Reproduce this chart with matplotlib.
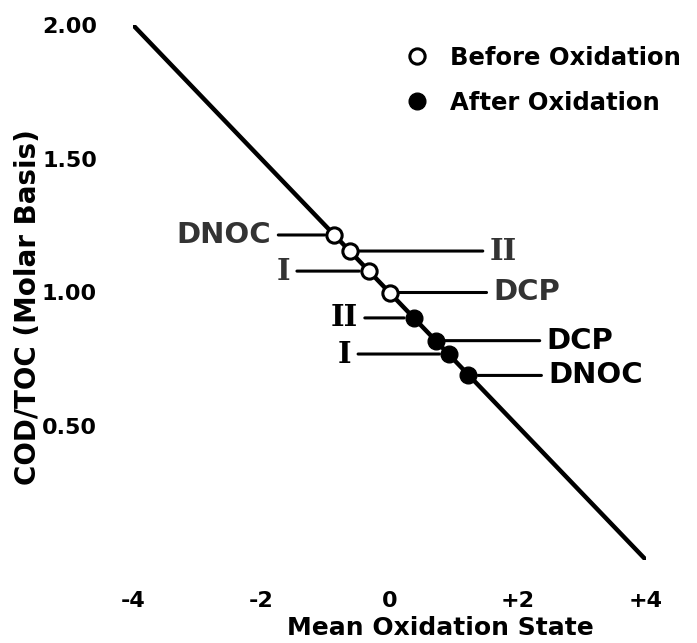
import matplotlib
matplotlib.use("Agg")
import matplotlib.pyplot as plt
from matplotlib.lines import Line2D

# ---- data ----
line_x = [-4.0, 4.0]          # COD/TOC = (4 - MOS)/4 reference line
line_y = [2.0, 0.0]

before_x = [-0.86, -0.62, -0.32, 0.0]
before_y = [1.215, 1.155, 1.08, 1.0]
before_labels = ["DNOC", "II", "I", "DCP"]
before_side = ["left", "right", "left", "right"]
before_dx = [-63, 140, -79, 104]

after_x = [0.38, 0.72, 0.93, 1.23]
after_y = [0.905, 0.82, 0.77, 0.69]
after_labels = ["II", "DCP", "I", "DNOC"]
after_side = ["left", "right", "left", "right"]
after_dx = [-56, 111, -98, 80]

xticks = [-4, -2, 0, 2, 4]
xtick_labels = ["-4", "-2", "0", "+2", "+4"]
yticks = [0.5, 1.0, 1.5, 2.0]
ytick_labels = ["0.50", "1.00", "1.50", "2.00"]

W, H = 697, 643
fig = plt.figure(figsize=(W / 100, H / 100), dpi=100)
ax = fig.add_axes([133 / W, 1 - 560 / H, (646 - 133) / W, (560 - 25) / H])
ax.set_xlim(-4, 4)
ax.set_ylim(0, 2)
for s in ax.spines.values():
    s.set_visible(False)

ax.plot(line_x, line_y, color="black", lw=3.2, solid_capstyle="round", zorder=2)
ax.plot(before_x, before_y, "o", ms=11, mfc="white", mec="black", mew=2.2, zorder=3)
ax.plot(after_x, after_y, "o", ms=12, mfc="black", mec="black", zorder=3)

def annot(xs, ys, labels, sides, dxs, color, weight):
    for x, y, lab, side, dx in zip(xs, ys, labels, sides, dxs):
        fam = "DejaVu Serif" if lab in ("I", "II") else "DejaVu Sans"
        ax.annotate(lab, xy=(x, y), xytext=(dx, 0), textcoords="offset pixels",
                    ha="right" if side == "left" else "left", va="center",
                    fontsize=21, fontweight=weight, family=fam, color=color,
                    arrowprops=dict(arrowstyle="-", lw=2.2, color="black",
                                    shrinkA=3, shrinkB=7))

annot(before_x, before_y, before_labels, before_side, before_dx, "#333333", "bold")
annot(after_x, after_y, after_labels, after_side, after_dx, "black", "bold")

ax.set_xticks(xticks)
ax.set_xticklabels(xtick_labels, fontsize=16, fontweight="bold")
ax.set_yticks(yticks)
ax.set_yticklabels(ytick_labels, fontsize=16, fontweight="bold")
ax.tick_params(axis="both", length=0)
ax.tick_params(axis="y", pad=26)
ax.tick_params(axis="x", pad=22)

fig.text(440 / W, 1 - 628 / H, "Mean Oxidation State", ha="center", va="center",
         fontsize=18, fontweight="bold")
fig.text(28 / W, 1 - 307 / H, "COD/TOC (Molar Basis)", ha="center", va="center",
         rotation=90, fontsize=20, fontweight="bold")

handles = [Line2D([], [], ls="none", marker="o", ms=11, mfc="white", mec="black", mew=2.2),
           Line2D([], [], ls="none", marker="o", ms=12, mfc="black", mec="black")]
fig.legend(handles, ["Before Oxidation", "After Oxidation"], loc="upper left",
           bbox_to_anchor=(405 / W, 1 - 46 / H), frameon=False, borderpad=0,
           borderaxespad=0, handlelength=1.0, handletextpad=0.85, labelspacing=0.85,
           prop=dict(size=17.5, weight="bold"))

fig.savefig("out.png", dpi=100)
